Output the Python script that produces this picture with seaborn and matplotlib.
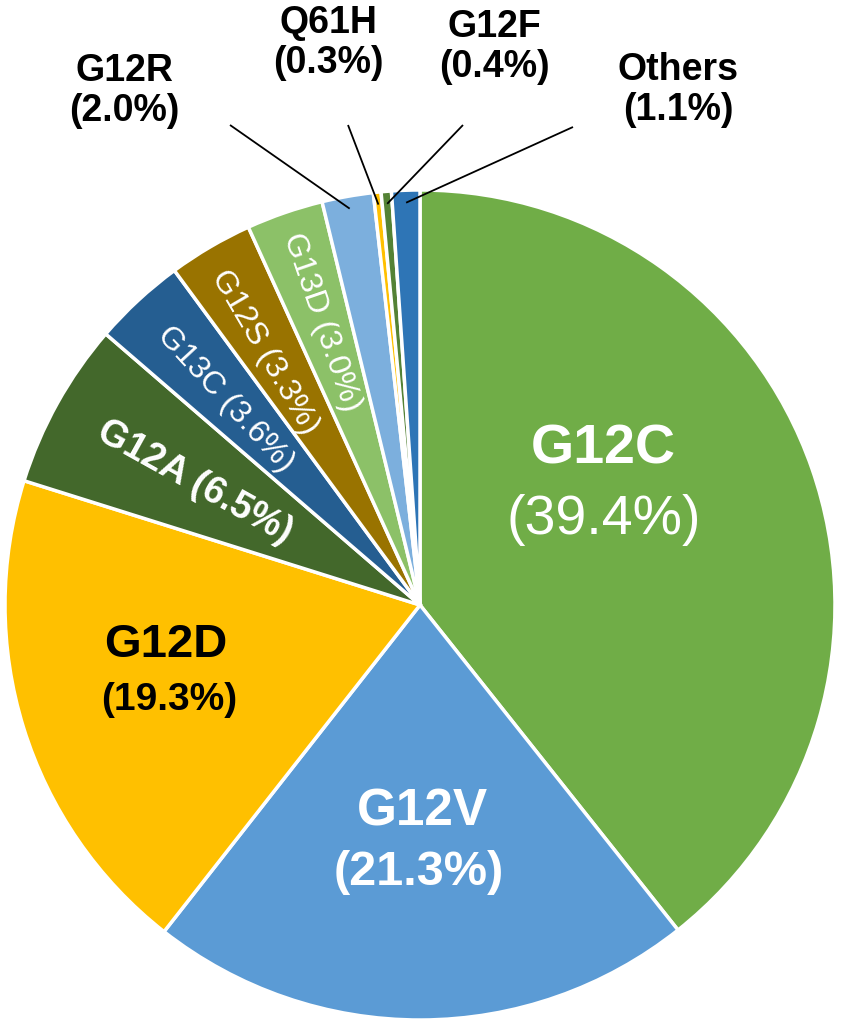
import numpy as np
import matplotlib
matplotlib.use('Agg')
import matplotlib.pyplot as plt
import seaborn as sns

# ---- data ----
labels = ['G12C', 'G12V', 'G12D', 'G12A', 'G13C', 'G12S', 'G13D', 'G12R', 'Q61H', 'G12F', 'Others']
values = [39.4, 21.3, 19.3, 6.5, 3.6, 3.3, 3.0, 2.0, 0.3, 0.4, 1.1]
colors = ['#70AD47', '#5B9BD5', '#FFC000', '#43682B', '#255E91', '#997300',
          '#8CC168', '#7CAFDD', '#FFC000', '#548235', '#2E75B6']

sns.set_theme(style='white')
plt.rcParams['font.family'] = ['Liberation Sans', 'DejaVu Sans']

W, H = 841, 1024
CX, CY, R = 420, 605, 415

fig = plt.figure(figsize=(W / 100, H / 100), dpi=100, facecolor='white')
ax = fig.add_axes([0, 0, 1, 1])
wedges, _ = ax.pie(values, colors=colors, startangle=90, counterclock=False, radius=1,
                   wedgeprops=dict(edgecolor='white', linewidth=2.5))
ax.set_xlim(-CX / R, (W - CX) / R)
ax.set_ylim((CY - H) / R, CY / R)
ax.set_aspect('auto')
ax.axis('off')


def P(x, y):
    return ((x - CX) / R, (CY - y) / R)


def pct(v):
    return f'({v:.1f}%)'


idx = {l: i for i, l in enumerate(labels)}

# big inner labels
def two(lab, p1, p2, s1, s2, w1, w2, c):
    i = idx[lab]
    ax.text(*P(*p1), lab, ha='center', va='center', fontsize=s1, fontweight=w1, color=c)
    ax.text(*P(*p2), pct(values[i]), ha='center', va='center', fontsize=s2, fontweight=w2, color=c)

two('G12C', (603, 450), (604, 520), 40, 40, 'bold', 'normal', 'white')
two('G12V', (422, 812), (419, 873), 37, 35, 'bold', 'bold', 'white')
two('G12D', (166, 645), (169, 700), 34, 28, 'bold', 'bold', 'black')

# rotated radial labels
rot_specs = [('G12A', (195, 482), 27, 'bold'),
             ('G13C', (225, 399), 23, 'normal'),
             ('G12S', (265, 352), 23, 'normal'),
             ('G13D', (322, 322), 23, 'normal')]
for lab, pos, size, wt in rot_specs:
    w = wedges[idx[lab]]
    mid = (w.theta1 + w.theta2) / 2.0
    ax.text(*P(*pos), f'{lab} {pct(values[idx[lab]])}', ha='center', va='center',
            rotation=mid - 180, rotation_mode='anchor', fontsize=size, fontweight=wt, color='white')

# outer labels with leader lines
outer_specs = [('G12R', (124, 91), (230, 125)),
               ('Q61H', (328, 43), (348, 125)),
               ('G12F', (494, 47), (463, 125)),
               ('Others', (678, 90), (573, 127))]
for lab, tpos, lstart in outer_specs:
    i = idx[lab]
    ax.text(*P(*tpos), f'{lab}\n{pct(values[i])}', ha='center', va='center', multialignment='center',
            fontsize=27, fontweight='bold', color='black', linespacing=1.13)
    w = wedges[i]
    mid = np.deg2rad((w.theta1 + w.theta2) / 2.0)
    end = (0.97 * np.cos(mid), 0.97 * np.sin(mid))
    start = P(*lstart)
    ax.plot([start[0], end[0]], [start[1], end[1]], color='black', lw=1.3, solid_capstyle='butt')

fig.savefig('out.png', dpi=100, facecolor='white')
